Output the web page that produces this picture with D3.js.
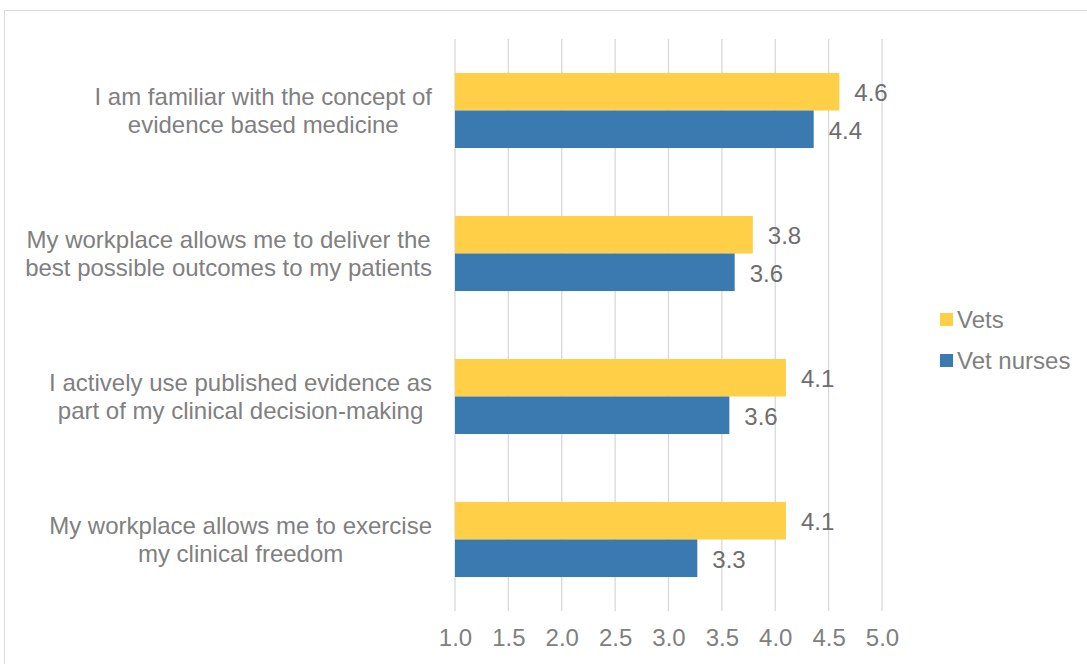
<!DOCTYPE html>
<html>
<head>
<meta charset="utf-8">
<script src="https://cdn.jsdelivr.net/npm/d3@7"></script>
<style>
  html, body { margin: 0; padding: 0; background: #fff; }
  svg { display: block; font-family: "Liberation Sans", Arial, sans-serif; }
</style>
</head>
<body>
<svg id="chart" width="1087" height="664"></svg>
<script>
// Survey statements (top to bottom), each split into its two display lines
const categories = [
  ["I am familiar with the concept of", "evidence based medicine"],
  ["My workplace allows me to deliver the", "best possible outcomes to my patients"],
  ["I actively use published evidence as", "part of my clinical decision-making"],
  ["My workplace allows me to exercise", "my clinical freedom"]
];
const seriesNames = ["Vets", "Vet nurses"];
const vetsValues = [4.60, 3.79, 4.10, 4.10];
const nurseValues = [4.36, 3.62, 3.57, 3.27];
const tickValues = [1.0, 1.5, 2.0, 2.5, 3.0, 3.5, 4.0, 4.5, 5.0];
const colors = ["#FFCF48", "#3A7AB1"];

const svg = d3.select("#chart");

// outer chart-area frame
svg.append("rect")
  .attr("x", 4.5).attr("y", 10.5)
  .attr("width", 1200).attr("height", 800)
  .attr("fill", "none").attr("stroke", "#d9d9d9").attr("stroke-width", 1);

const plot = { left: 455, right: 882, top: 39, bottom: 611 };

const x = d3.scaleLinear().domain([1, 5]).range([plot.left, plot.right]);
const y0 = d3.scaleBand()
  .domain(d3.range(categories.length))
  .range([plot.top, plot.bottom])
  .paddingInner(0.475)
  .paddingOuter(0.2375);
const y1 = d3.scaleBand()
  .domain(seriesNames)
  .range([0, y0.bandwidth()]);

// vertical gridlines
svg.append("g")
  .selectAll("line")
  .data(tickValues)
  .join("line")
  .attr("x1", d => x(d)).attr("x2", d => x(d))
  .attr("y1", plot.top).attr("y2", plot.bottom)
  .attr("stroke", "#d9d9d9").attr("stroke-width", 1.3);

// bottom axis labels
const xAxis = d3.axisBottom(x)
  .tickValues(tickValues)
  .tickFormat(d3.format(".1f"))
  .tickSize(0)
  .tickPadding(0);
const axisG = svg.append("g")
  .attr("transform", `translate(0, ${plot.bottom + 18})`)
  .call(xAxis);
axisG.select(".domain").remove();
axisG.selectAll("text")
  .attr("fill", "#808080")
  .attr("font-size", "24px")
  .attr("font-family", "'Liberation Sans', Arial, sans-serif");

// bars
const rows = categories.map((c, i) => ({
  i,
  values: [
    { name: seriesNames[0], v: vetsValues[i], color: colors[0] },
    { name: seriesNames[1], v: nurseValues[i], color: colors[1] }
  ]
}));

const groups = svg.append("g")
  .selectAll("g")
  .data(rows)
  .join("g")
  .attr("transform", d => `translate(0, ${y0(d.i)})`);

groups.selectAll("rect")
  .data(d => d.values)
  .join("rect")
  .attr("x", x(1))
  .attr("y", d => y1(d.name))
  .attr("width", d => x(d.v) - x(1))
  .attr("height", y1.bandwidth())
  .attr("fill", d => d.color);

// value labels
groups.selectAll("text.val")
  .data(d => d.values)
  .join("text")
  .attr("class", "val")
  .attr("x", d => x(d.v) + 15)
  .attr("y", d => y1(d.name) + y1.bandwidth() / 2 + 1)
  .attr("dy", "0.35em")
  .attr("fill", "#6e6e6e")
  .attr("font-size", "24px")
  .text(d => d3.format(".1f")(d.v));

// category labels: lines centred on each other, block right-aligned
const labelRight = 432;
const catG = svg.append("g");
categories.forEach((lines, i) => {
  const cy = y0(i) + y0.bandwidth() / 2;
  const lineH = 28;
  const g = catG.append("g");
  const texts = lines.map((t, k) =>
    g.append("text")
      .attr("y", cy + (k - (lines.length - 1) / 2) * lineH)
      .attr("dy", "0.35em")
      .attr("text-anchor", "middle")
      .attr("fill", "#808080")
      .attr("font-size", "24px")
      .text(t)
  );
  const maxW = d3.max(texts, t => t.node().getComputedTextLength());
  texts.forEach(t => t.attr("x", labelRight - maxW / 2));
});

// legend
const legend = svg.append("g").attr("transform", "translate(940, 320)");
seriesNames.forEach((name, k) => {
  const g = legend.append("g").attr("transform", `translate(0, ${k * 41})`);
  g.append("rect")
    .attr("x", 0).attr("y", -7)
    .attr("width", 13).attr("height", 13)
    .attr("fill", colors[k]);
  g.append("text")
    .attr("x", 17).attr("y", 0)
    .attr("dy", "0.35em")
    .attr("fill", "#808080")
    .attr("font-size", "24px")
    .text(name);
});
</script>
</body>
</html>
